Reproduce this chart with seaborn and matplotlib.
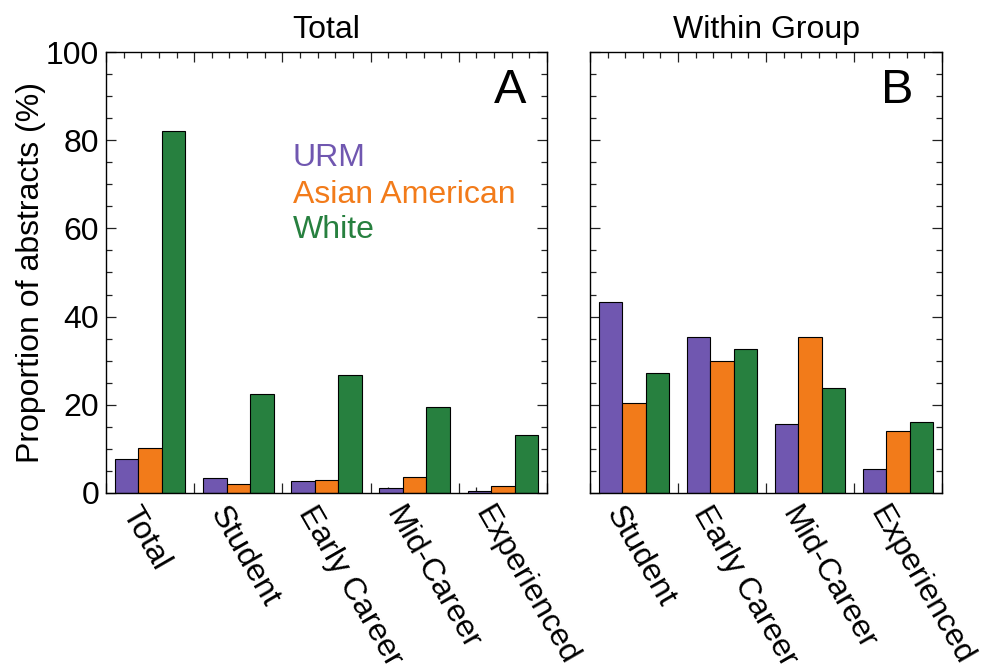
import pandas as pd
import matplotlib
matplotlib.use("Agg")
import matplotlib.pyplot as plt
import matplotlib.transforms as mtransforms
import seaborn as sns

groups = ['URM', 'Asian American', 'White']
colors = ['#7057B0', '#F27B1A', '#27803F']

cats_a = ['Total', 'Student', 'Early Career', 'Mid-Career', 'Experienced']
urm_a = [7.7, 3.4, 2.7, 1.2, 0.5]
asian_a = [10.3, 2.1, 3.0, 3.7, 1.5]
white_a = [82.1, 22.4, 26.8, 19.5, 13.2]

cats_b = ['Student', 'Early Career', 'Mid-Career', 'Experienced']
urm_b = [43.2, 35.3, 15.7, 5.5]
asian_b = [20.5, 29.9, 35.3, 14.1]
white_b = [27.3, 32.6, 23.8, 16.0]


def to_long(cats, series):
    rows = []
    for g, vals in zip(groups, series):
        for c, v in zip(cats, vals):
            rows.append({'stage': c, 'group': g, 'value': v})
    return pd.DataFrame(rows)


df_a = to_long(cats_a, [urm_a, asian_a, white_a])
df_b = to_long(cats_b, [urm_b, asian_b, white_b])

sns.set_style('white')
plt.rcParams['font.family'] = ['Liberation Sans', 'DejaVu Sans']
plt.rcParams['text.color'] = 'black'
plt.rcParams['axes.labelcolor'] = 'black'
plt.rcParams['xtick.color'] = 'black'
plt.rcParams['ytick.color'] = 'black'

FS = 23

fig = plt.figure(figsize=(9.87, 6.72), dpi=100)
ax_a = fig.add_axes([0.1074, 0.2664, 0.4468, 0.6562])
ax_b = fig.add_axes([0.5978, 0.2664, 0.3566, 0.6562])

shift = mtransforms.ScaledTranslation(-9 / 100, 0, fig.dpi_scale_trans)


def style_axis(ax, cats, show_y):
    n = len(cats)
    ax.set_xlim(-0.5, n - 0.5)
    ax.set_ylim(0, 100)
    ax.set_xlabel('')
    ax.set_ylabel('')
    bounds = [i - 0.5 for i in range(n + 1)]
    subs = [i - 0.5 + k * 0.2 for i in range(n) for k in range(1, 5)]
    ax.set_xticks(bounds)
    ax.set_xticks(subs, minor=True)
    ax.set_xticklabels([])
    ax.set_yticks(range(0, 101, 20))
    ax.set_yticks(range(0, 101, 5), minor=True)
    ax.tick_params(which='both', direction='in', top=True, right=True,
                   bottom=True, left=True, color='#222222', width=0.9)
    ax.tick_params(which='major', length=7)
    ax.tick_params(which='minor', length=4)
    ax.tick_params(axis='y', labelsize=FS, pad=5)
    if not show_y:
        ax.set_yticklabels([])
    for sp in ax.spines.values():
        sp.set_visible(True)
        sp.set_color('black')
        sp.set_linewidth(1.0)
    sec = ax.secondary_xaxis('bottom')
    sec.set_xticks(range(n))
    sec.set_xticklabels(cats, rotation=-60, ha='left', va='top',
                        rotation_mode='anchor', fontsize=FS)
    sec.tick_params(length=0, pad=6)
    sec.spines['bottom'].set_visible(False)
    for lab in sec.get_xticklabels():
        lab.set_transform(lab.get_transform() + shift)
    leg = ax.get_legend()
    if leg is not None:
        leg.remove()


sns.barplot(data=df_a, x='stage', y='value', hue='group', order=cats_a,
            hue_order=groups, palette=colors, width=0.8, saturation=1,
            edgecolor='black', linewidth=0.8, ax=ax_a)
sns.barplot(data=df_b, x='stage', y='value', hue='group', order=cats_b,
            hue_order=groups, palette=colors, width=0.8, saturation=1,
            edgecolor='black', linewidth=0.8, ax=ax_b)

style_axis(ax_a, cats_a, True)
style_axis(ax_b, cats_b, False)

ax_a.set_ylabel('Proportion of abstracts (%)', fontsize=FS, labelpad=0)
ax_a.set_title('Total', fontsize=FS, pad=10)
ax_b.set_title('Within Group', fontsize=FS, pad=10)

ax_a.text(0.952, 0.884, 'A', transform=ax_a.transAxes, ha='right', va='baseline', fontsize=35)
ax_b.text(0.920, 0.884, 'B', transform=ax_b.transAxes, ha='right', va='baseline', fontsize=35)

legend_y = [74.2, 65.8, 57.8]
for g, c, yv in zip(groups, colors, legend_y):
    ax_a.text(1.62, yv, g, color=c, fontsize=FS, ha='left', va='baseline')

fig.savefig('out.png', dpi=100)
